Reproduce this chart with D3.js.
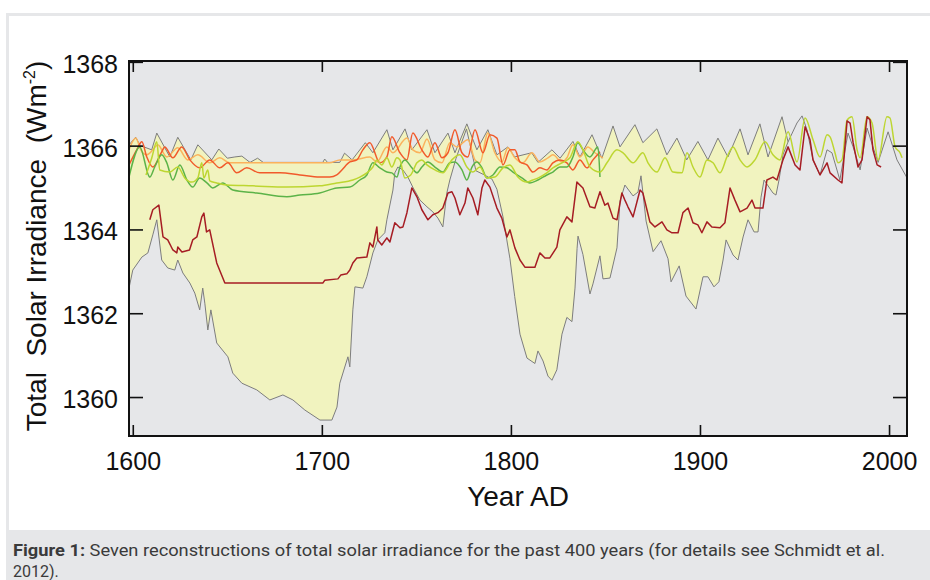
<!DOCTYPE html>
<html>
<head>
<meta charset="utf-8">
<script src="https://cdnjs.cloudflare.com/ajax/libs/d3/7.8.5/d3.min.js"></script>
<style>
  html, body { margin: 0; padding: 0; background: #fff; }
  svg { display: block; }
  .axis text { font-family: "Liberation Sans", Arial, sans-serif; font-size: 25px; fill: #111; }
  .axis line { stroke: #111; stroke-width: 1.6; }
  .axis path { display: none; }
</style>
</head>
<body>
<div id="chart"></div>
<script>
// tick values
const xTicks = [1600, 1700, 1800, 1900, 2000];
const yTicks = [1360, 1362, 1364, 1366, 1368];

// [year, W/m2]
const upperGrey = [[1598,1366.02],[1601.5,1366.2],[1604,1366.0],[1610,1365.9],[1612.7,1366.3],[1619.6,1365.73],[1623.8,1366.2],[1630.7,1365.66],[1634.4,1366.02],[1641.8,1365.66],[1645.5,1365.92],[1650,1365.7],[1654,1365.73],[1657.7,1365.75],[1662,1365.6],[1666,1365.7],[1669,1365.6],[1700.5,1365.6],[1701.5,1365.68],[1703,1365.6],[1709.5,1365.6],[1712,1365.82],[1716,1365.66],[1723,1366.07],[1727,1365.83],[1734.4,1366.38],[1737.6,1365.9],[1744,1366.4],[1747.6,1365.9],[1755.6,1366.38],[1759.8,1365.83],[1766.7,1366.3],[1770.4,1365.83],[1776.7,1366.52],[1782,1365.9],[1787.8,1366.38],[1792.6,1365.78],[1798.4,1365.97],[1802,1365.73],[1811,1365.83],[1814.3,1365.6],[1821.7,1365.9],[1826,1365.7],[1832.8,1366.1],[1836.5,1365.73],[1842.9,1366.26],[1848.1,1365.7],[1854,1366.47],[1857.7,1365.97],[1865.6,1366.5],[1869.8,1366.07],[1877.2,1366.4],[1882.5,1365.78],[1887.8,1366.18],[1893,1365.66],[1898.9,1366.1],[1904.2,1365.66],[1909.5,1366.18],[1914.8,1365.73],[1921.2,1366.4],[1925.4,1365.78],[1931.7,1366.52],[1936,1365.73],[1943.4,1366.69],[1946.6,1366.09],[1951.3,1366.54],[1954,1366.71],[1956.6,1366.38],[1959.8,1365.66],[1963.5,1365.3],[1967.2,1365.9],[1969.8,1365.83],[1974,1365.18],[1978.3,1366.3],[1981,1365.97],[1984.7,1365.42],[1988.4,1366.42],[1991.5,1365.97],[1994.2,1365.6],[1999.5,1366.33],[2004.2,1365.66],[2009.5,1365.23]];

const lowerGrey = [[1598,1362.6],[1600,1363.03],[1604.8,1363.34],[1608,1363.44],[1610.6,1363.87],[1612.7,1364.23],[1615.3,1363.27],[1618.5,1363.08],[1622.2,1363.03],[1623.8,1363.27],[1626.5,1362.96],[1630.2,1362.72],[1632.8,1362.48],[1635.4,1362.08],[1637,1362.6],[1638.1,1362.24],[1639.7,1361.6],[1641.3,1362.08],[1644.4,1361.29],[1650.3,1360.96],[1652.9,1360.57],[1657.7,1360.33],[1665.6,1360.17],[1672.5,1359.93],[1679.4,1360.05],[1684.7,1359.93],[1691,1359.69],[1699,1359.45],[1705.3,1359.45],[1708,1359.76],[1709.5,1360.33],[1713.8,1360.96],[1714.8,1360.72],[1716.4,1362.08],[1717.5,1362.63],[1721.7,1362.6],[1723.8,1362.87],[1727,1363.44],[1729.6,1363.75],[1733.3,1363.92],[1734.4,1364.23],[1737.6,1364.94],[1738.6,1365.35],[1740.2,1365.49],[1742.9,1365.42],[1745.5,1365.25],[1748.1,1365.01],[1751.9,1364.7],[1755.6,1364.54],[1758.7,1364.42],[1761.4,1364.27],[1764,1364.06],[1766.1,1364.87],[1767.7,1365.18],[1771,1365.7],[1776.5,1366.4],[1779,1365.9],[1781.5,1365.4],[1786,1365.3],[1790,1365.2],[1792.6,1364.96],[1795.8,1364.3],[1799.5,1363.3],[1802,1362.4],[1804.8,1361.5],[1808.5,1360.93],[1812.7,1360.8],[1814.3,1361.1],[1817,1360.86],[1819.6,1360.5],[1821.7,1360.4],[1824.3,1360.65],[1827,1361.5],[1829.6,1361.9],[1832.3,1361.8],[1833.9,1362.6],[1835,1363.55],[1835.5,1363.84],[1838.1,1363.4],[1841.8,1362.46],[1843.4,1362.7],[1847.1,1363.37],[1848.7,1362.82],[1852.4,1362.84],[1856.1,1363.56],[1857.7,1364.68],[1860.3,1365.06],[1864.6,1364.8],[1867.2,1364.89],[1868.8,1365.28],[1871.5,1364.2],[1875.2,1363.47],[1879.4,1363.73],[1883.1,1363.3],[1884.7,1362.75],[1889,1363.13],[1892.6,1362.41],[1897.9,1362.1],[1901.6,1362.87],[1904.2,1362.87],[1907.4,1362.63],[1910,1362.75],[1912.2,1363.27],[1913.8,1363.75],[1917.5,1363.39],[1920.1,1363.27],[1922.8,1363.82],[1925.4,1364.23],[1928.6,1363.94],[1930.7,1363.94],[1932.3,1364.77],[1933.9,1365.18],[1938.6,1364.87],[1940.2,1364.82],[1941.8,1365.18],[1944,1365.8],[1946.6,1366.09]];

const lightOrange = [[1598,1365.9],[1601.6,1366.18],[1604.2,1365.9],[1607.4,1365.78],[1610.6,1365.9],[1613.2,1366.02],[1618,1365.73],[1623.8,1365.95],[1629.1,1365.66],[1634.4,1365.78],[1640.7,1365.59],[1646,1365.71],[1651.3,1365.59],[1704,1365.59],[1709.5,1365.66],[1716.4,1365.66],[1725.4,1365.73],[1729.1,1365.61],[1734.4,1365.97],[1737.6,1365.83],[1745,1366.18],[1748.1,1365.9],[1751.9,1365.83],[1755.6,1366.16],[1759.8,1365.66],[1763.5,1365.59],[1767.7,1366.07],[1771.4,1365.97],[1777.2,1366.14],[1781,1365.66],[1783.6,1365.59],[1787.8,1366.3],[1791.5,1365.83],[1795.2,1365.61],[1798.4,1365.95],[1802.1,1365.71],[1806.3,1365.59],[1811.1,1365.83],[1815.3,1365.61],[1819.6,1365.71],[1822.2,1365.78],[1827,1365.61],[1829.6,1365.71],[1832.8,1366.02],[1836.5,1365.73],[1840.7,1365.97],[1844.4,1365.83],[1848.7,1365.71]];

const redOrange = [[1598,1365.54],[1602.1,1365.9],[1604.8,1366.09],[1607.4,1365.73],[1610.6,1365.49],[1615.3,1365.85],[1616.9,1365.97],[1621.2,1365.71],[1625.9,1365.97],[1630.2,1365.66],[1635.4,1365.47],[1640.7,1365.66],[1646,1365.47],[1650.3,1365.59],[1655,1365.35],[1660.3,1365.47],[1667.2,1365.35],[1677.8,1365.35],[1688.4,1365.3],[1698.9,1365.25],[1704.2,1365.25],[1707.9,1365.3],[1710.6,1365.42],[1714.8,1365.61],[1718.5,1365.66],[1721.7,1365.9],[1725.4,1366.07],[1730.7,1365.59],[1734.4,1365.73],[1737,1366.21],[1741.3,1365.83],[1745,1365.66],[1748.1,1366.3],[1752.9,1365.9],[1756.1,1365.73],[1759.8,1366.07],[1763.5,1365.71],[1766.7,1365.83],[1770.4,1366.38],[1774.1,1365.83],[1777.2,1365.73],[1781,1366.38],[1785.2,1365.83],[1788.9,1366.26],[1792.6,1366.18],[1795.8,1365.54],[1799.5,1365.9],[1802.1,1365.9],[1804.8,1365.61],[1808.5,1365.54],[1811.6,1365.37],[1815.3,1365.47],[1819,1365.42],[1822.2,1365.59],[1825.9,1365.66],[1829.6,1365.59],[1832.8,1365.42],[1836.5,1365.66],[1840.2,1365.47],[1843.4,1365.66],[1847.1,1365.85]];

const yellowGreen = [[1607,1365.3],[1610,1365.7],[1612.7,1366.09],[1614.3,1365.42],[1619.6,1365.37],[1623.8,1365.49],[1627.5,1365.23],[1631.2,1365.13],[1634.4,1365.23],[1636.5,1365.59],[1637.6,1365.23],[1639.7,1365.42],[1640.7,1365.16],[1644.4,1365.11],[1649.7,1365.06],[1663.5,1365.04],[1681.5,1365.01],[1698.9,1365.04],[1707.9,1365.11],[1716.4,1365.18],[1720.1,1365.25],[1723.8,1365.35],[1727,1365.49],[1729.1,1365.66],[1731.7,1365.54],[1734.4,1365.71],[1737,1365.49],[1739.7,1365.71],[1741.3,1365.66],[1743.9,1365.23],[1747,1365.3],[1750.3,1365.59],[1752.9,1365.66],[1755.6,1365.54],[1759.8,1365.42],[1764,1365.35],[1768.8,1365.66],[1773,1365.78],[1776.7,1365.49],[1779.9,1365.37],[1783.6,1365.49],[1787.3,1365.23],[1791.5,1365.25],[1795.8,1365.47],[1799.5,1365.54],[1803.7,1365.25],[1808.5,1365.13],[1811.6,1365.18],[1815.3,1365.25],[1819,1365.35],[1822.2,1365.47],[1827,1365.59],[1831.2,1365.71],[1835.4,1366.09],[1838.1,1365.9],[1841.8,1365.49],[1847.1,1365.37],[1850.8,1365.59],[1856.1,1365.9],[1859.3,1365.83],[1864.6,1365.59],[1869.8,1365.83],[1872.5,1365.59],[1877.2,1365.37],[1881.5,1365.71],[1885.7,1365.37],[1890.5,1365.35],[1893.1,1365.83],[1896.3,1365.49],[1900,1365.25],[1903.7,1365.66],[1906.9,1365.59],[1910.6,1365.35],[1914.3,1365.73],[1917.5,1365.97],[1921.2,1365.66],[1924.9,1365.49],[1929.1,1365.66],[1934.4,1366.09],[1938.6,1365.78],[1942.3,1365.66],[1946.6,1366.33],[1951.3,1365.61],[1955.6,1366.66],[1959.8,1366.14],[1963.5,1365.73],[1967.2,1366.26],[1968.8,1366.21],[1971.4,1365.83],[1973,1365.59],[1975.1,1365.66],[1977.8,1366.61],[1980.4,1366.69],[1983.1,1365.9],[1984.7,1365.71],[1988.4,1366.69],[1991,1366.54],[1994.2,1365.66],[1998.9,1366.69],[2000.5,1366.66],[2003.2,1365.97],[2005.8,1365.83],[2006.9,1365.71]];

const green = [[1598,1365.25],[1603.7,1365.97],[1609,1365.25],[1611.6,1365.49],[1615.3,1365.78],[1618,1365.59],[1621.2,1365.18],[1624.9,1365.54],[1628.6,1365.18],[1631.7,1365.01],[1635.4,1365.23],[1639.2,1365.11],[1642.3,1364.99],[1647.6,1365.11],[1652.9,1364.94],[1665.6,1364.87],[1681.5,1364.78],[1688.4,1364.82],[1698.9,1364.87],[1707.9,1364.99],[1714.8,1365.01],[1720.1,1365.18],[1723.8,1365.3],[1727,1365.59],[1730.7,1365.47],[1734.4,1365.37],[1737,1365.35],[1739.7,1365.25],[1741.3,1365.49],[1743.9,1365.66],[1747.6,1365.47],[1750.3,1365.35],[1752.9,1365.49],[1756.1,1365.61],[1759.8,1365.49],[1764,1365.37],[1767.7,1365.59],[1770.4,1365.61],[1774.1,1365.42],[1776.7,1365.18],[1779.4,1365.49],[1782,1365.61],[1784.7,1365.47],[1787.3,1365.23],[1790.5,1365.3],[1794.2,1365.49],[1797.9,1365.47],[1801.1,1365.37],[1805.8,1365.23],[1810.1,1365.11],[1814.3,1365.18],[1819,1365.3],[1822.2,1365.37],[1825.9,1365.49],[1829.6,1365.49],[1832.8,1365.73],[1835.4,1366.07],[1838.1,1365.9],[1841.8,1365.73],[1846,1365.97],[1847.1,1365.25]];

const darkRed = [[1609,1364.23],[1610.6,1364.47],[1613.8,1364.58],[1615.3,1364.06],[1616,1363.82],[1618.5,1363.75],[1621.2,1363.51],[1623.3,1363.44],[1623.8,1363.58],[1626,1363.46],[1630,1363.51],[1631.7,1363.75],[1633.9,1363.82],[1636.5,1364.3],[1637.6,1364.39],[1639,1363.94],[1640.7,1363.99],[1644.4,1363.2],[1648.7,1362.72],[1700.5,1362.72],[1701.6,1362.79],[1708.5,1362.82],[1710,1362.91],[1713.2,1362.94],[1714.8,1363.03],[1716.4,1363.2],[1718.5,1363.32],[1723.8,1363.34],[1725.4,1363.68],[1727,1363.58],[1729.1,1364.06],[1729.6,1363.75],[1731.7,1363.63],[1734.4,1363.8],[1736,1363.7],[1738.6,1364.16],[1741.3,1364.04],[1742.9,1364.06],[1745,1364.4],[1747.6,1364.99],[1750.3,1364.78],[1752.9,1364.47],[1756.1,1364.23],[1758.7,1364.35],[1761.4,1364.4],[1764,1364.51],[1766.7,1364.87],[1768.8,1364.9],[1770.4,1364.75],[1773,1364.35],[1775.7,1364.63],[1777.2,1364.99],[1779.9,1364.75],[1782.5,1364.35],[1784.7,1364.99],[1786.2,1365.18],[1788.9,1365.01],[1792.6,1364.51],[1795.2,1364.27],[1797.9,1363.82],[1799.5,1363.99],[1802.1,1363.56],[1804.8,1363.27],[1807.4,1363.1],[1812.7,1363.1],[1815.3,1363.44],[1818,1363.32],[1820.6,1363.32],[1824.3,1363.58],[1825.9,1363.99],[1829.6,1364.3],[1832.3,1364.18],[1834.9,1365.13],[1838.1,1364.99],[1841.8,1364.54],[1844.4,1364.51],[1847.1,1364.9],[1849.7,1364.58],[1851.3,1364.63],[1854,1364.27],[1856.1,1364.23],[1858.7,1364.87],[1860.3,1364.7],[1861.9,1364.54],[1864.6,1364.3],[1868.3,1364.94],[1869.8,1364.87],[1873.5,1364.18],[1876.2,1364.06],[1879.9,1364.18],[1882.5,1363.99],[1885.2,1363.92],[1888.4,1363.92],[1891,1364.4],[1893.7,1364.51],[1896.3,1364.16],[1898.9,1364.11],[1901,1363.92],[1903.7,1364.18],[1906.3,1364.06],[1910.6,1364.04],[1913.2,1364.16],[1915.9,1364.99],[1918.5,1364.7],[1921.2,1364.42],[1924.9,1364.51],[1927.5,1364.7],[1929.1,1364.51],[1933.3,1364.51],[1935.4,1365.18],[1938.6,1365.25],[1940.7,1365.18],[1943.9,1365.66],[1946.6,1365.97],[1950.3,1365.54],[1952.9,1365.42],[1955.6,1366.45],[1958.2,1366.14],[1959.8,1365.66],[1963.5,1365.3],[1967.2,1365.59],[1968.8,1365.35],[1973,1365.18],[1975.1,1365.11],[1977.8,1366.59],[1979.4,1366.54],[1981,1366.07],[1983.6,1365.49],[1985.7,1365.66],[1988.4,1366.69],[1989.9,1366.62],[1991.5,1365.9],[1993.7,1365.54],[1995.8,1365.49]];

const W = 930, H = 580;
const frame = { left: 129, right: 907, top: 61, bottom: 436 };

const svg = d3.select("#chart").append("svg")
  .attr("width", W)
  .attr("height", H);

// page card + caption box
svg.append("rect").attr("x", 6).attr("y", 13).attr("width", W - 6).attr("height", 3).attr("fill", "#e6e7e9");
svg.append("rect").attr("x", 6).attr("y", 13).attr("width", 3).attr("height", H - 13).attr("fill", "#e6e7e9");
svg.append("rect").attr("x", 9).attr("y", 530).attr("width", W - 9).attr("height", 50).attr("fill", "#e6e7e9");

const x = d3.scaleLinear().domain([1598, 2009.5]).range([frame.left, frame.right]);
const y = d3.scaleLinear().domain([1359.07, 1368.02]).range([frame.bottom, frame.top]);

svg.append("rect")
  .attr("x", frame.left).attr("y", frame.top)
  .attr("width", frame.right - frame.left).attr("height", frame.bottom - frame.top)
  .attr("fill", "#e6e7e9");

svg.append("clipPath").attr("id", "plotClip")
  .append("rect")
  .attr("x", frame.left).attr("y", frame.top)
  .attr("width", frame.right - frame.left).attr("height", frame.bottom - frame.top);

const plot = svg.append("g").attr("clip-path", "url(#plotClip)");

const line = d3.line().x(d => x(d[0])).y(d => y(d[1]));
const smoothLine = d3.line().x(d => x(d[0])).y(d => y(d[1])).curve(d3.curveMonotoneX);

// yellow band between the two grey reconstructions
const lastLow = lowerGrey[lowerGrey.length - 1][0];
const band = upperGrey.filter(d => d[0] <= lastLow).concat(lowerGrey.slice().reverse());
plot.append("path")
  .attr("d", line(band) + "Z")
  .attr("fill", "#f1f3bf")
  .attr("stroke", "none");

const series = [
  { data: upperGrey, color: "#7d7d7d", width: 1, smooth: false },
  { data: lowerGrey, color: "#7d7d7d", width: 1, smooth: false },
  { data: lightOrange, color: "#fbb25c", width: 1.5, smooth: true },
  { data: redOrange, color: "#f15a2b", width: 1.5, smooth: true },
  { data: green, color: "#5cb348", width: 1.5, smooth: true },
  { data: yellowGreen, color: "#bdd631", width: 1.5, smooth: true },
  { data: darkRed, color: "#a61d24", width: 1.5, smooth: false }
];

plot.selectAll("path.series")
  .data(series)
  .enter()
  .append("path")
  .attr("class", "series")
  .attr("d", d => (d.smooth ? smoothLine : line)(d.data))
  .attr("fill", "none")
  .attr("stroke", d => d.color)
  .attr("stroke-width", d => d.width)
  .attr("stroke-linejoin", "round");

// axes, ticks point inward on all four sides
svg.append("g").attr("class", "axis")
  .attr("transform", `translate(${frame.left},0)`)
  .call(d3.axisLeft(y).tickValues(yTicks).tickSize(-14).tickPadding(11).tickFormat(d3.format("d")))
  .selectAll("text").attr("dy", "0.42em");

svg.append("g").attr("class", "axis")
  .attr("transform", `translate(${frame.right},0)`)
  .call(d3.axisRight(y).tickValues(yTicks).tickSize(-14).tickFormat(""));

svg.append("g").attr("class", "axis")
  .attr("transform", `translate(0,${frame.bottom})`)
  .call(d3.axisBottom(x).tickValues(xTicks).tickSize(-11).tickPadding(16).tickFormat(d3.format("d")));

svg.append("g").attr("class", "axis")
  .attr("transform", `translate(0,${frame.top})`)
  .call(d3.axisTop(x).tickValues(xTicks).tickSize(-11).tickFormat(""));

svg.append("rect")
  .attr("x", frame.left).attr("y", frame.top)
  .attr("width", frame.right - frame.left).attr("height", frame.bottom - frame.top)
  .attr("fill", "none")
  .attr("stroke", "#111")
  .attr("stroke-width", 2);

// axis titles
svg.append("text")
  .attr("x", 518)
  .attr("y", 506)
  .attr("text-anchor", "middle")
  .style("font-family", "'Liberation Sans', Arial, sans-serif")
  .style("font-size", "28px")
  .style("fill", "#111")
  .text("Year AD");

const yTitle = svg.append("text")
  .attr("transform", "translate(46,246) rotate(-90)")
  .attr("text-anchor", "middle")
  .style("font-family", "'Liberation Sans', Arial, sans-serif")
  .style("font-size", "28px")
  .style("fill", "#111")
  .attr("xml:space", "preserve");
yTitle.append("tspan").text("Total  Solar Irradiance  (Wm");
yTitle.append("tspan").attr("dy", -11).style("font-size", "16px").text("-2");
yTitle.append("tspan").attr("dy", 11).text(")");

// caption
const cap = svg.append("text")
  .attr("x", 13)
  .attr("y", 556)
  .attr("textLength", 872)
  .attr("lengthAdjust", "spacingAndGlyphs")
  .style("font-family", "Roboto, 'Noto Sans', sans-serif")
  .style("font-size", "16px")
  .style("fill", "#3a3a3a");
cap.append("tspan").style("font-weight", "bold").text("Figure 1:");
cap.append("tspan").text(" Seven reconstructions of total solar irradiance for the past 400 years (for details see Schmidt et al.");

svg.append("text")
  .attr("x", 13)
  .attr("y", 577)
  .style("font-family", "Roboto, 'Noto Sans', sans-serif")
  .style("font-size", "16px")
  .style("fill", "#3a3a3a")
  .text("2012).");
</script>
</body>
</html>
